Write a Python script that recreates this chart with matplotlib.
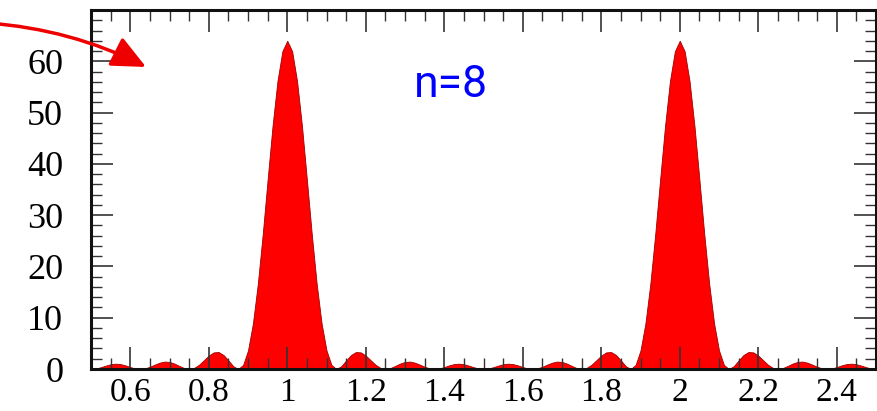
import numpy as np
import matplotlib
matplotlib.use("Agg")
import matplotlib.pyplot as plt
from matplotlib.ticker import MultipleLocator, FixedLocator

# Sample positions (grid along the x axis) and intensities
x_start, x_stop, n_samples = 0.5, 2.5, 161
intensity = [
    0.0, 0.10, 0.35, 0.66, 0.93, 1.04, 0.96, 0.71, 0.38, 0.11,
    0.0, 0.12, 0.44, 0.86, 1.24, 1.45, 1.38, 1.06, 0.60, 0.18,
    0.0, 0.21, 0.82, 1.71, 2.62, 3.24, 3.31, 2.74, 1.68, 0.54,
    0.0, 0.80, 3.62, 8.88, 16.60, 26.27, 36.96, 47.38, 56.12, 61.95,
    64.0,
    61.95, 56.12, 47.38, 36.96, 26.27, 16.60, 8.88, 3.62, 0.80, 0.0,
    0.54, 1.68, 2.74, 3.31, 3.24, 2.62, 1.71, 0.82, 0.21, 0.0,
    0.18, 0.60, 1.06, 1.38, 1.45, 1.24, 0.86, 0.44, 0.12, 0.0,
    0.11, 0.38, 0.71, 0.96, 1.04, 0.93, 0.66, 0.35, 0.10, 0.0,
    0.10, 0.35, 0.66, 0.93, 1.04, 0.96, 0.71, 0.38, 0.11, 0.0,
    0.12, 0.44, 0.86, 1.24, 1.45, 1.38, 1.06, 0.60, 0.18, 0.0,
    0.21, 0.82, 1.71, 2.62, 3.24, 3.31, 2.74, 1.68, 0.54, 0.0,
    0.80, 3.62, 8.88, 16.60, 26.27, 36.96, 47.38, 56.12, 61.95, 64.0,
    61.95, 56.12, 47.38, 36.96, 26.27, 16.60, 8.88, 3.62, 0.80, 0.0,
    0.54, 1.68, 2.74, 3.31, 3.24, 2.62, 1.71, 0.82, 0.21, 0.0,
    0.18, 0.60, 1.06, 1.38, 1.45, 1.24, 0.86, 0.44, 0.12, 0.0,
    0.11, 0.38, 0.71, 0.96, 1.04, 0.93, 0.66, 0.35, 0.10, 0.0,
]
x = np.linspace(x_start, x_stop, n_samples)
y = np.array(intensity)

x_ticks = [0.6, 0.8, 1.0, 1.2, 1.4, 1.6, 1.8, 2.0, 2.2, 2.4]
x_tick_labels = ["0.6", "0.8", "1", "1.2", "1.4", "1.6", "1.8", "2", "2.2", "2.4"]
y_ticks = [0, 10, 20, 30, 40, 50, 60]
y_tick_labels = ["0", "10", "20", "30", "40", "50", "60"]
label_text = "n=8"

W, H = 877, 411
fig = plt.figure(figsize=(W / 100, H / 100), dpi=100)
ax = fig.add_axes([91 / W, (H - 369) / H, (876 - 91) / W, (369 - 10) / H])

ax.fill_between(x, 0, y, facecolor="#ff0000", edgecolor="#a00000", linewidth=0.6)

ax.set_xlim(0.5, 2.5)
ax.set_ylim(0, 70)

ax.xaxis.set_major_locator(FixedLocator(x_ticks))
ax.set_xticklabels(x_tick_labels)
ax.xaxis.set_minor_locator(MultipleLocator(0.05))
ax.yaxis.set_major_locator(FixedLocator(y_ticks))
ax.set_yticklabels(y_tick_labels)
ax.yaxis.set_minor_locator(MultipleLocator(2))

serif = ["Liberation Serif", "DejaVu Serif"]
for lab in ax.get_xticklabels():
    lab.set_family(serif)
    lab.set_fontsize(24)
for lab in ax.get_yticklabels():
    lab.set_family(serif)
    lab.set_fontsize(26)

ax.tick_params(which="both", direction="in", top=True, right=True, color="#333333")
ax.tick_params(which="major", length=16, width=1.2)
ax.tick_params(which="minor", length=8, width=1.0)
ax.tick_params(axis="x", which="major", pad=6)
ax.tick_params(axis="y", which="major", pad=20)

for s in ax.spines.values():
    s.set_linewidth(2.2)
    s.set_color("#111111")

ax.text(1.417, 55.3, label_text, color="#0000ff", fontsize=32,
        family=["Roboto", "DejaVu Sans"], ha="center", va="center")

ax.annotate("", xy=(146, H - 67), xycoords="figure pixels",
            xytext=(-12, H - 23), textcoords="figure pixels",
            arrowprops=dict(arrowstyle="-|>,head_length=1.3,head_width=0.6",
                            connectionstyle="arc3,rad=-0.1",
                            color="#ee0000", lw=2.5, mutation_scale=16,
                            shrinkA=0, shrinkB=0),
            annotation_clip=False)

fig.savefig("out.png", dpi=100)
